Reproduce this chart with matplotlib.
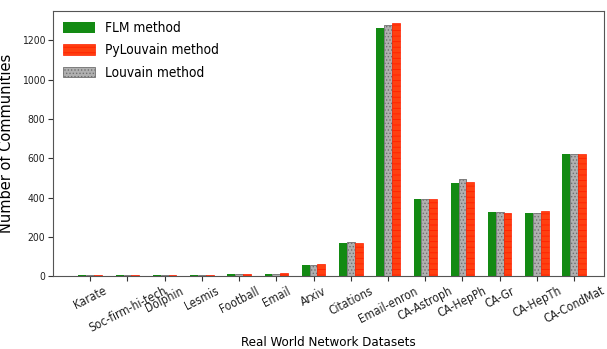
import matplotlib
matplotlib.use("Agg")
import matplotlib.pyplot as plt
import numpy as np

datasets = ["Karate", "Soc-firm-hi-tech", "Dolphin", "Lesmis", "Football", "Email",
            "Arxiv", "Citations", "Email-enron", "CA-Astroph", "CA-HepPh", "CA-Gr",
            "CA-HepTh", "CA-CondMat"]
flm = [3, 3, 4, 6, 8, 10, 57, 168, 1264, 395, 476, 325, 319, 620]
louvain = [3, 3, 4, 6, 10, 10, 58, 172, 1281, 395, 493, 326, 322, 620]
pylouvain = [3, 3, 4, 6, 10, 15, 60, 170, 1288, 395, 481, 323, 330, 620]

plt.rcParams['hatch.linewidth'] = 0.6
plt.rcParams['font.stretch'] = 'condensed'
plt.rcParams['hatch.color'] = '#ffb060'
fig = plt.figure(figsize=(6.07, 3.49), dpi=100)
ax = fig.add_axes([0.0873, 0.209, 0.9077, 0.7595])

x = np.arange(len(datasets))
w = 0.21
b1 = ax.bar(x - w, flm, w, color='#138a13', label='FLM method')
b3 = ax.bar(x, louvain, w, color='#b0b0b0', edgecolor='#707070', hatch='.....',
            linewidth=0.6, label='Louvain method')
b2 = ax.bar(x + w, pylouvain, w, color='#ff4010', edgecolor='#ff2000',
            linewidth=0.5, label='PyLouvain method')
for bar in b2:
    bar.set_hatch('---')
for bar in b3:
    bar._hatch_color = matplotlib.colors.to_rgba('#707070')

ax.set_xticks(x)
ax.set_xticklabels(datasets, rotation=27, fontsize=8.6)
ax.tick_params(axis='y', labelsize=7.5, pad=2)
ax.tick_params(axis='x', pad=2.5)
ax.tick_params(axis='both', colors='#333333', labelcolor='#222222')
ax.set_xlim(-1.0, 13.8)
ax.set_ylim(0, 1350)
ax.set_yticks([0, 200, 400, 600, 800, 1000, 1200])
ax.set_ylabel('Number of Communities', fontsize=10.5, fontstretch='normal', labelpad=6)
ax.set_xlabel('Real World Network Datasets', fontsize=9.5, labelpad=1)
for s in ax.spines.values():
    s.set_color('#555555')
    s.set_linewidth(0.8)

ax.legend(handles=[b1, b2, b3], loc='upper left', frameon=False, fontsize=9.8,
          handlelength=2.3, handleheight=0.8, borderaxespad=0.35, labelspacing=0.6)

fig.savefig('out.png', dpi=100)
